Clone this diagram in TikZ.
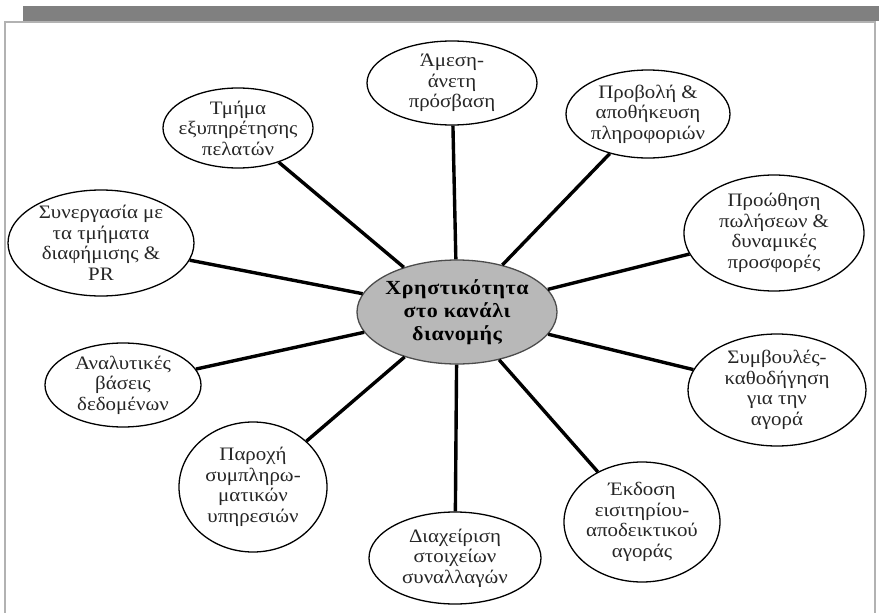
\documentclass[tikz,border=0pt]{standalone}
\usepackage{fontspec}
\setmainfont{Liberation Serif}[FakeStretch=1.1]
\usetikzlibrary{shapes.geometric}

\begin{document}
\begin{tikzpicture}[x=1pt,y=-1pt,
  bubble/.style={ellipse, draw=black, line width=1.3pt, fill=white,
    inner sep=-40pt, align=center, text=black!85,
    font=\fontsize{19}{20.5}\selectfont},
  hub/.style={ellipse, draw=black!70, line width=1.3pt, fill=black!28,
    inner sep=-40pt, align=center, text=black,
    font=\fontsize{20}{23}\selectfont\bfseries\addfontfeature{LetterSpace=3}},
  spoke/.style={line width=3.4pt, black}]
\useasboundingbox (0,0) rectangle (879,613);

% header bar and page frame
\fill[black!50] (23,6) rectangle (879,21);
\draw[black!30, line width=2pt] (5,630) -- (5,22) -- (875,22) -- (875,630);

% central topic
\node[hub, minimum width=200pt, minimum height=104pt] (hub) at (457,312)
  {Χρηστικότητα\\στο κανάλι\\διανομής};

% surrounding topics
\node[bubble, minimum width=170pt, minimum height=84pt] (n1) at (452,83)
  {Άμεση-\\άνετη\\πρόσβαση};
\node[bubble, minimum width=164pt, minimum height=88pt] (n2) at (648,114)
  {Προβολή \&\\αποθήκευση\\πληροφοριών};
\node[bubble, minimum width=180pt, minimum height=116pt] (n3) at (774,233)
  {Προώθηση\\πωλήσεων \&\\δυναμικές\\προσφορές};
\node[bubble, minimum width=178pt, minimum height=112pt] (n4) at (777,390)
  {Συμβουλές-\\καθοδήγηση\\για την\\αγορά};
\node[bubble, minimum width=156pt, minimum height=120pt] (n5) at (642,522)
  {Έκδοση\\εισιτηρίου-\\αποδεικτικού\\αγοράς};
\node[bubble, minimum width=172pt, minimum height=92pt] (n6) at (455,558)
  {Διαχείριση\\στοιχείων\\συναλλαγών};
\node[bubble, minimum width=148pt, minimum height=130pt] (n7) at (253,487)
  {Παροχή\\συμπληρω-\\ματικών\\υπηρεσιών};
\node[bubble, minimum width=156pt, minimum height=84pt] (n8) at (123,385)
  {Αναλυτικές\\βάσεις\\δεδομένων};
\node[bubble, minimum width=186pt, minimum height=106pt] (n9) at (101,243)
  {Συνεργασία με\\τα τμήματα\\διαφήμισης \&\\PR};
\node[bubble, minimum width=150pt, minimum height=80pt] (n10) at (238,128)
  {Τμήμα\\εξυπηρέτησης\\πελατών};

% spokes from the hub to every topic
\foreach \n in {n1,n2,n3,n4,n5,n6,n7,n8,n9,n10}
  \draw[spoke] (hub) -- (\n);
\end{tikzpicture}
\end{document}
